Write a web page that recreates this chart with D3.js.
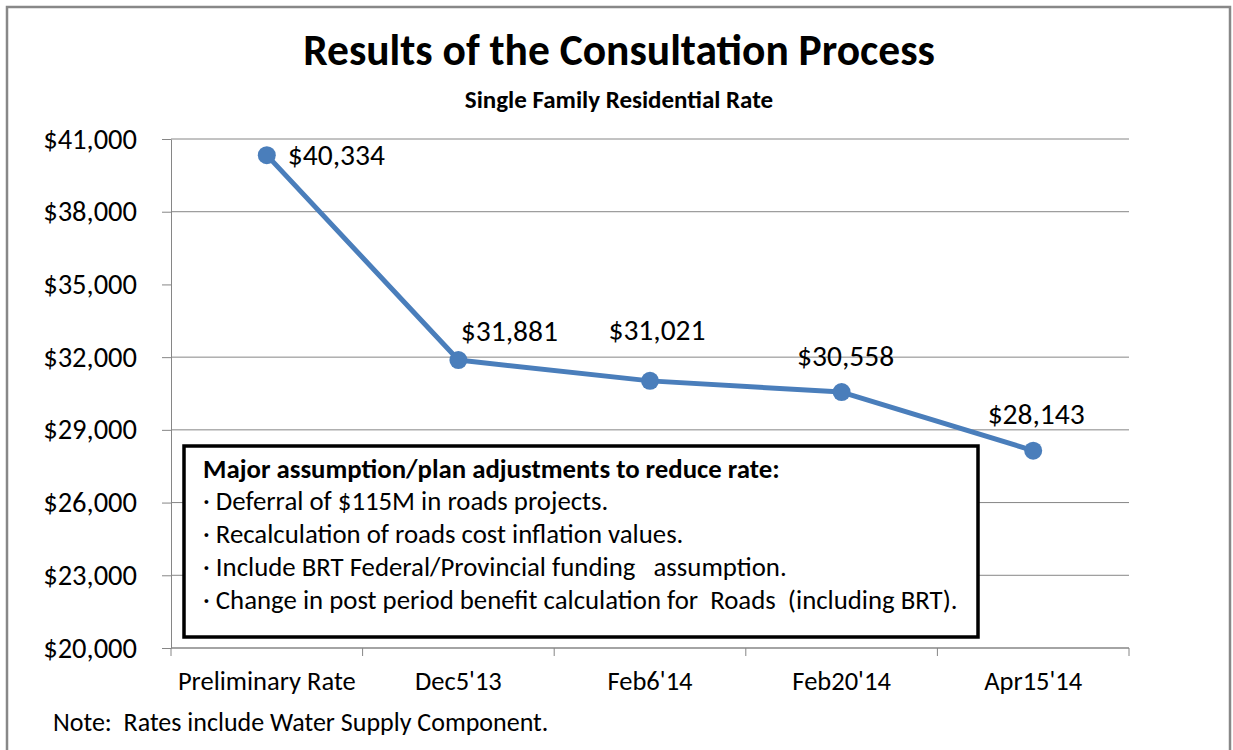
<!DOCTYPE html>
<html>
<head>
<meta charset="utf-8">
<script src="https://cdn.jsdelivr.net/npm/d3@7"></script>
<style>
    html, body { margin: 0; padding: 0; background: #fff; }
    #chart { width: 1233px; height: 750px; }
    text { font-family: Carlito, Calibri, Lato, sans-serif; fill: #000; }
</style>
</head>
<body>
<div id="chart"></div>
<script>
// Results of the Consultation Process - single family residential rate

const categories = ['Preliminary Rate', "Dec5'13", "Feb6'14", "Feb20'14", "Apr15'14"];
const rates = [40334, 31881, 31021, 30558, 28143];
const yTicks = [20000, 23000, 26000, 29000, 32000, 35000, 38000, 41000];
const gridValues = [23000, 26000, 29000, 32000, 38000, 41000]; // no line drawn at 35,000 in the original
const noteLines = [
    'Deferral of $115M in roads projects.',
    'Recalculation of roads cost inflation values.',
    'Include BRT Federal/Provincial funding   assumption.',
    'Change in post period benefit calculation for  Roads  (including BRT).'
];

const BLUE = '#4A7EBB';
const GRID = '#868686';

const RateChart = {
    width: 1233,
    height: 750,

    render() {
        const svg = d3.select('#chart')
            .append('svg')
            .attr('width', this.width)
            .attr('height', this.height);

        // outer frame
        svg.append('rect')
            .attr('x', 7).attr('y', 7)
            .attr('width', 1223).attr('height', 800)
            .attr('fill', 'none')
            .attr('stroke', '#888')
            .attr('stroke-width', 2.5);

        // titles
        svg.append('text')
            .attr('x', 619).attr('y', 65)
            .attr('text-anchor', 'middle')
            .attr('font-size', '43.5px')
            .attr('font-weight', 'bold')
            .text('Results of the Consultation Process');

        svg.append('text')
            .attr('x', 619).attr('y', 108)
            .attr('text-anchor', 'middle')
            .attr('font-size', '25px')
            .attr('font-weight', 'bold')
            .text('Single Family Residential Rate');

        const plot = { left: 171, right: 1129, top: 139, bottom: 648 };

        const x = d3.scaleBand()
            .domain(categories)
            .range([plot.left, plot.right])
            .padding(0);

        const y = d3.scaleLinear()
            .domain([20000, 41000])
            .range([plot.bottom, plot.top]);

        const cx = d => x(d) + x.bandwidth() / 2;

        // gridlines
        svg.append('g')
            .attr('class', 'grid')
            .selectAll('line')
            .data(gridValues)
            .join('line')
            .attr('x1', plot.left).attr('x2', plot.right)
            .attr('y1', d => y(d)).attr('y2', d => y(d))
            .attr('stroke', GRID)
            .attr('stroke-width', 1);

        // y axis
        const yAxis = svg.append('g')
            .attr('transform', `translate(${plot.left},0)`)
            .call(d3.axisLeft(y)
                .tickValues(yTicks)
                .tickFormat(d3.format('$,'))
                .tickSize(9)
                .tickSizeOuter(0)
                .tickPadding(25));
        yAxis.attr('font-family', null).attr('font-size', null);
        yAxis.selectAll('path, line').attr('stroke', GRID);
        yAxis.selectAll('text')
            .attr('font-size', '28.5px')
            .attr('fill', '#000');

        // x axis: line plus ticks between categories
        const xAxis = svg.append('g');
        xAxis.append('line')
            .attr('x1', plot.left).attr('x2', plot.right)
            .attr('y1', plot.bottom).attr('y2', plot.bottom)
            .attr('stroke', GRID)
            .attr('stroke-width', 1.5);
        const bounds = categories.map(c => x(c)).concat([plot.right]);
        xAxis.selectAll('line.tick')
            .data(bounds)
            .join('line')
            .attr('class', 'tick')
            .attr('x1', d => d).attr('x2', d => d)
            .attr('y1', plot.bottom).attr('y2', plot.bottom + 8)
            .attr('stroke', GRID);
        xAxis.selectAll('text')
            .data(categories)
            .join('text')
            .attr('x', d => cx(d))
            .attr('y', 690)
            .attr('text-anchor', 'middle')
            .attr('font-size', '26.5px')
            .text(d => d);

        // series line
        const data = categories.map((c, i) => ({ cat: c, value: rates[i] }));

        const line = d3.line()
            .x(d => cx(d.cat))
            .y(d => y(d.value));

        svg.append('path')
            .datum(data)
            .attr('fill', 'none')
            .attr('stroke', BLUE)
            .attr('stroke-width', 5)
            .attr('stroke-linejoin', 'round')
            .attr('d', line);

        svg.append('g')
            .selectAll('circle')
            .data(data)
            .join('circle')
            .attr('cx', d => cx(d.cat))
            .attr('cy', d => y(d.value))
            .attr('r', 9)
            .attr('fill', BLUE);

        // data labels (first one sits to the right, rest above)
        const labelPos = [
            { dx: 21, dy: 10, anchor: 'start' },
            { dx: 51, dy: -19, anchor: 'middle' },
            { dx: 7, dy: -41, anchor: 'middle' },
            { dx: 4, dy: -26, anchor: 'middle' },
            { dx: 3, dy: -27, anchor: 'middle' }
        ];
        svg.append('g')
            .selectAll('text')
            .data(data)
            .join('text')
            .attr('x', (d, i) => cx(d.cat) + labelPos[i].dx)
            .attr('y', (d, i) => y(d.value) + labelPos[i].dy)
            .attr('text-anchor', (d, i) => labelPos[i].anchor)
            .attr('font-size', '29.5px')
            .text(d => d3.format('$,')(d.value));

        // annotation box
        const box = svg.append('g');
        box.append('rect')
            .attr('x', 184).attr('y', 446)
            .attr('width', 794).attr('height', 191)
            .attr('fill', '#fff')
            .attr('stroke', '#000')
            .attr('stroke-width', 3.5);

        box.append('text')
            .attr('x', 203).attr('y', 478)
            .attr('font-size', '26.8px')
            .attr('font-weight', 'bold')
            .text('Major assumption/plan adjustments to reduce rate:');

        box.selectAll('text.item')
            .data(noteLines)
            .join('text')
            .attr('class', 'item')
            .attr('x', 203)
            .attr('y', (d, i) => 510 + i * 33)
            .attr('font-size', '26.8px')
            .style('white-space', 'pre')
            .text(d => '\u00B7 ' + d);

        // footnote
        svg.append('text')
            .attr('x', 53).attr('y', 731)
            .attr('font-size', '26px')
            .style('white-space', 'pre')
            .text('Note:  Rates include Water Supply Component.');
    }
};

RateChart.render();
</script>
</body>
</html>
